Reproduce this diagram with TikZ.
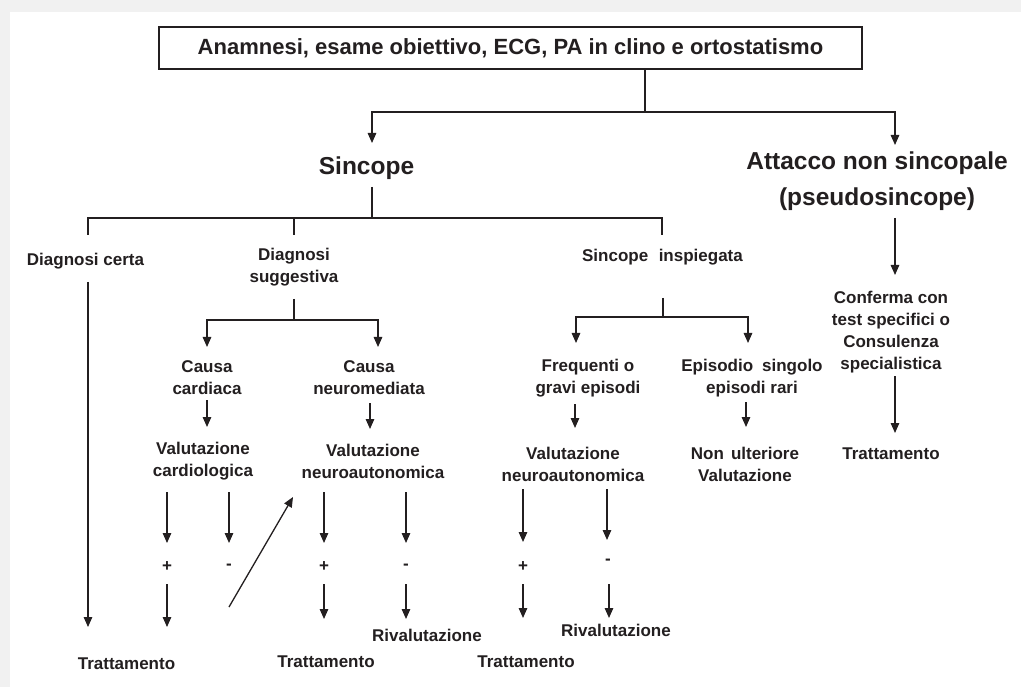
\documentclass[tikz,border=0pt]{standalone}
\usepackage{fontspec}
\setmainfont{Liberation Sans}
\usetikzlibrary{arrows.meta}
\definecolor{ink}{RGB}{35,31,32}
\definecolor{band}{RGB}{241,241,241}
\begin{document}
\begin{tikzpicture}[x=1pt,y=-1pt,
  line width=1.3pt, color=ink,
  lbl/.style={inner sep=0pt, align=center, font=\fontsize{17}{22}\selectfont\bfseries},
  big/.style={inner sep=0pt, align=center, font=\fontsize{24.5}{36}\selectfont\bfseries},
  arr/.style={-{Triangle[length=10pt,width=8.5pt]}},
  headbox/.style={draw, inner sep=0pt, minimum width=703pt, minimum height=42pt, font=\fontsize{22}{26}\selectfont\bfseries}]
\useasboundingbox (0,0) rectangle (1021,687);
\fill[band] (0,0) rectangle (1021,687);
\fill[white] (10,12) rectangle (1021,687);

% ---------- nodes ----------
\node[headbox] (top) at (510.5,48) {Anamnesi, esame obiettivo, ECG, PA in clino e ortostatismo};
\node[big] (sinc) at (366.5,168) {Sincope};
\node[big] (att) at (877,181) {Attacco non sincopale\\(pseudosincope)};

\node[lbl] (dcert) at (85.5,261) {Diagnosi certa};
\node[lbl] (dsugg) at (294,267.5) {Diagnosi\\suggestiva};
\node[lbl] (sinsp) at (662.5,257) {Sincope\hspace{10.5pt}inspiegata};

\node[lbl] (ccard) at (207,378) {Causa\\cardiaca};
\node[lbl] (cneur) at (369,378) {Causa\\neuromediata};
\node[lbl] (vcard) at (203,461) {Valutazione\\cardiologica};
\node[lbl] (vneur) at (373,461) {Valutazione\\neuroautonomica};

\node[lbl] (p1) at (167,567) {+};
\node[lbl] (m1) at (229,567) {-};
\node[lbl] (p2) at (324,567) {+};
\node[lbl] (m2) at (406,567) {-};

\node[lbl] (tr1) at (126.5,664) {Trattamento};
\node[lbl] (tr2) at (326,662) {Trattamento};
\node[lbl] (riv1) at (427,635) {Rivalutazione};

\node[lbl] (freq) at (588,378) {Frequenti o\\gravi episodi};
\node[lbl] (epis) at (752,378) {Episodio\hspace{9pt}singolo\\episodi rari};
\node[lbl] (vneur2) at (573,464) {Valutazione\\neuroautonomica};
\node[lbl] (nonul) at (745,464) {Non\hspace{7pt}ulteriore\\Valutazione};

\node[lbl] (p3) at (523,567) {+};
\node[lbl] (m3) at (608,562) {-};
\node[lbl] (tr3) at (526,662) {Trattamento};
\node[lbl] (riv2) at (616,630) {Rivalutazione};

\node[lbl] (conf) at (891,332.5) {Conferma con\\test specifici o\\Consulenza\\specialistica};
\node[lbl] (tr4) at (891,454) {Trattamento};

% ---------- junctions and free ends ----------
\coordinate (j1) at (645,112);
\coordinate (sinTip) at (372,143);
\coordinate (attTip) at (895,145);
\coordinate (s1) at (372,187);
\coordinate (j2) at (372,218);
\coordinate (dcTop) at (88,235);
\coordinate (dsTop) at (294,235);
\coordinate (siTop) at (662,235);

% top level
\draw (j1 |- top.south) -- (j1);
\draw[arr] (j1) -| (sinTip);
\draw[arr] (j1) -| (attTip);

% Sincope branches
\draw (s1) -- (j2);
\draw (dcTop) |- (j2) -| (siTop);
\draw (dsTop) -- (dsTop |- j2);

% Diagnosi certa
\draw[arr] (88,282) -- (88,627);

% Diagnosi suggestiva
\coordinate (j3) at (294,320);
\draw (294,299) -- (j3);
\draw[arr] (j3) -| (207,347);
\draw[arr] (j3) -| (378,347);
\draw[arr] (207,400) -- (207,427);
\draw[arr] (370,403) -- (370,429);

\draw[arr] (167,492) -- (167,543);
\draw[arr] (229,492) -- (229,543);
\draw[arr] (324,492) -- (324,543);
\draw[arr] (406,492) -- (406,543);

\draw[arr] (167,584) -- (167,627);
\draw[arr] (229,607) -- (293,497);
\draw[arr] (324,584) -- (324,619);
\draw[arr] (406,584) -- (406,619);

% Sincope inspiegata
\coordinate (j4) at (663,317);
\draw (663,298) -- (j4);
\draw[arr] (j4) -| (576,343);
\draw[arr] (j4) -| (748,343);
\draw[arr] (575,404) -- (575,428);
\draw[arr] (746,402) -- (746,427);

\draw[arr] (523,489) -- (523,542);
\draw[arr] (607,489) -- (607,540);
\draw[arr] (523,584) -- (523,618);
\draw[arr] (609,584) -- (609,618);

% Attacco non sincopale
\draw[arr] (895,218) -- (895,275);
\draw[arr] (895,376) -- (895,433);
\end{tikzpicture}
\end{document}
